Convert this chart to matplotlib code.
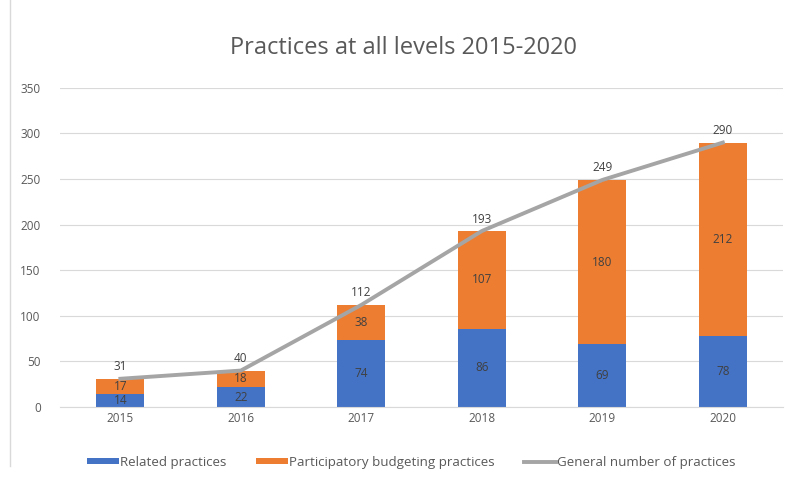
import matplotlib.pyplot as plt
import numpy as np

years = ['2015', '2016', '2017', '2018', '2019', '2020']
related = [14, 22, 74, 86, 69, 78]
participatory = [17, 18, 38, 107, 180, 212]
general = [31, 40, 112, 193, 249, 290]

plt.rcParams['font.family'] = ['Open Sans', 'DejaVu Sans']

fig = plt.figure(figsize=(7.91, 4.8), dpi=100)
ax = fig.add_axes([0.076, 0.152, 0.914, 0.665])

x = np.arange(len(years))
width = 0.4
b1 = ax.bar(x, related, width, color='#4472C4', label='Related practices', zorder=2)
b2 = ax.bar(x, participatory, width, bottom=related, color='#ED7D31',
            label='Participatory budgeting practices', zorder=2)
l1, = ax.plot(x, general, color='#A5A5A5', lw=2.8, label='General number of practices', zorder=3)

for i in range(len(years)):
    ax.text(x[i], related[i] / 2, str(related[i]), ha='center', va='center',
            fontsize=8.5, color='#404040', zorder=4)
    ax.text(x[i], related[i] + participatory[i] / 2, str(participatory[i]),
            ha='center', va='center', fontsize=8.5, color='#404040', zorder=4)
    ax.text(x[i], general[i] + 6, str(general[i]), ha='center', va='bottom',
            fontsize=8.5, color='#404040', zorder=4)

ax.set_xlim(-0.5, len(years) - 0.5)
ax.set_ylim(0, 350)
ax.set_yticks(range(0, 351, 50))
ax.set_xticks(x)
ax.set_xticklabels(years)
ax.tick_params(axis='both', length=0, labelsize=8.5, colors='#595959')
ax.tick_params(axis='y', pad=14)
ax.grid(axis='y', color='#D9D9D9', lw=0.8, zorder=0)
for s in ['top', 'right', 'left']:
    ax.spines[s].set_visible(False)
ax.spines['bottom'].set_color('#D9D9D9')

fig.text(0.51, 0.9, 'Practices at all levels 2015-2020', ha='center', va='center',
         fontsize=17, color='#595959')

fig.legend([b1, b2, l1],
           ['Related practices', 'Participatory budgeting practices', 'General number of practices'],
           loc='center', bbox_to_anchor=(0.52, 0.037), ncol=3, frameon=False,
           fontsize=9.6, labelcolor='#595959', handlelength=2.4, handleheight=0.3,
           handletextpad=0.1, columnspacing=2.2)

fig.add_artist(plt.Line2D([0.013, 0.013], [0.03, 1], color='#D9D9D9', lw=1))

fig.savefig('out.png', dpi=100)
